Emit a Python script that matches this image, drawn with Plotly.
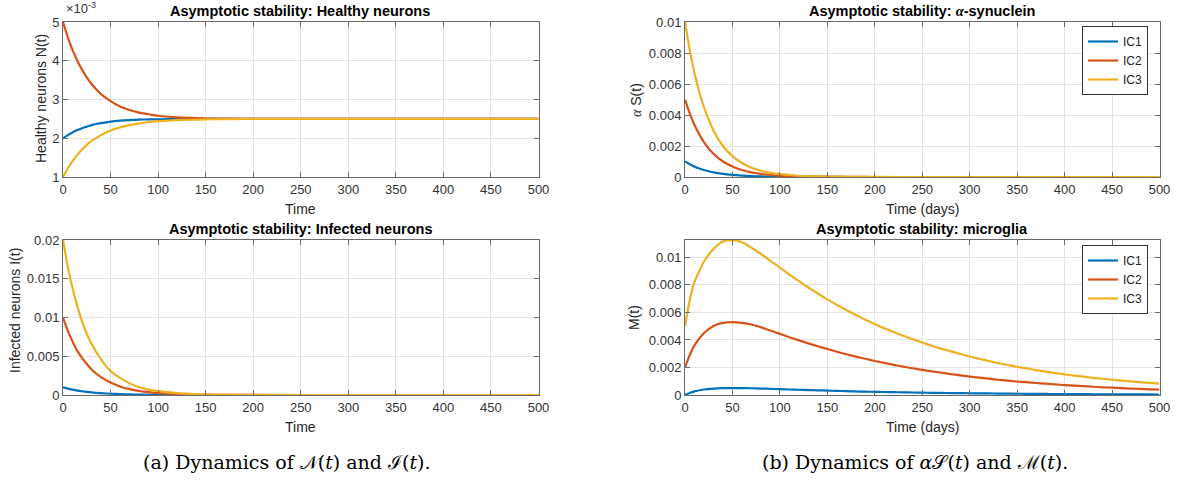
import plotly.graph_objects as go

# ---------------- data ----------------
T = [0, 5, 10, 15, 20, 25, 30, 40, 50, 60, 70, 80, 90, 100, 120, 140, 160, 180, 200, 250, 300, 350, 400, 450, 500]

# Healthy neurons N(t), in units of 1e-3
N_ic1 = [2.0, 2.08, 2.15, 2.21, 2.26, 2.30, 2.34, 2.39, 2.43, 2.455, 2.47, 2.48, 2.487, 2.49, 2.495, 2.498, 2.499, 2.5, 2.5, 2.5, 2.5, 2.5, 2.5, 2.5, 2.5]
N_ic2 = [5.0, 4.61, 4.28, 4.00, 3.77, 3.57, 3.40, 3.14, 2.96, 2.82, 2.73, 2.66, 2.62, 2.58, 2.54, 2.52, 2.51, 2.505, 2.5, 2.5, 2.5, 2.5, 2.5, 2.5, 2.5]
N_ic3 = [1.0, 1.22, 1.41, 1.57, 1.71, 1.83, 1.93, 2.08, 2.20, 2.28, 2.34, 2.38, 2.42, 2.44, 2.47, 2.48, 2.49, 2.495, 2.5, 2.5, 2.5, 2.5, 2.5, 2.5, 2.5]

# Infected neurons I(t)
I_ic1 = [0.001, 0.00083, 0.00069, 0.00057, 0.00048, 0.0004, 0.00033, 0.00023, 0.00016, 0.00011, 0.000075, 0.00005, 0.000036, 0.000025, 0.000012, 0.000006, 0.000003, 0.000001, 0, 0, 0, 0, 0, 0, 0]
I_ic2 = [0.01, 0.0083, 0.0069, 0.0057, 0.0048, 0.0040, 0.0033, 0.0023, 0.0016, 0.0011, 0.00075, 0.00052, 0.00036, 0.00025, 0.00012, 0.00006, 0.00003, 0.00001, 0.000006, 0, 0, 0, 0, 0, 0]
I_ic3 = [0.02, 0.0166, 0.0138, 0.0115, 0.0095, 0.0079, 0.0066, 0.0046, 0.0031, 0.0022, 0.0015, 0.0010, 0.0007, 0.0005, 0.00024, 0.00011, 0.00005, 0.00003, 0.00001, 0, 0, 0, 0, 0, 0]

# alpha-synuclein S(t)
S_ic1 = [0.001, 0.00082, 0.00067, 0.00055, 0.00045, 0.00037, 0.0003, 0.0002, 0.000135, 0.00009, 0.00006, 0.00004, 0.000027, 0.000018, 0.000008, 0.000004, 0.000002, 0.000001, 0, 0, 0, 0, 0, 0, 0]
S_ic2 = [0.005, 0.0041, 0.00335, 0.00275, 0.00225, 0.00184, 0.0015, 0.001, 0.00068, 0.00045, 0.0003, 0.0002, 0.00014, 0.00009, 0.00004, 0.00002, 0.00001, 0.000004, 0.0000015, 0, 0, 0, 0, 0, 0]
S_ic3 = [0.01, 0.0082, 0.0067, 0.0055, 0.0045, 0.0037, 0.0030, 0.0020, 0.00135, 0.0009, 0.0006, 0.0004, 0.00027, 0.00018, 0.00008, 0.00004, 0.00002, 0.00001, 0.000003, 0, 0, 0, 0, 0, 0]

# Microglia M(t) on its own time grid
T_M = [0, 5, 10, 20, 30, 40, 50, 60, 70, 80, 90, 100, 110, 120, 130, 140, 150, 160, 170, 180, 190, 200,
       210, 220, 230, 240, 250, 260, 270, 280, 290, 300, 310, 320, 330, 340, 350, 360, 370, 380, 390, 400,
       410, 420, 430, 440, 450, 460, 470, 480, 490, 500]
M_ic1 = [0, 0.00015, 0.00026, 0.0004, 0.00047, 0.0005, 0.00051, 0.0005, 0.00049, 0.00047, 0.00045, 0.00042,
         0.0004, 0.00038, 0.00036, 0.00034, 0.00032, 0.0003, 0.00028, 0.00026, 0.000245, 0.00023,
         0.000218, 0.000206, 0.000194, 0.000182, 0.00017, 0.00016, 0.00015, 0.000142, 0.000134, 0.000126,
         0.000118, 0.000111, 0.000104, 0.000098, 0.000092, 0.000087, 0.000082, 0.000077, 0.000072, 0.000068,
         0.000064, 0.00006, 0.000056, 0.000053, 0.00005, 0.000047, 0.000044, 0.000041, 0.000039, 0.000037]
M_ic2 = [0.002, 0.0029, 0.0036, 0.0045, 0.00502, 0.00524, 0.0053, 0.00524, 0.00512, 0.00492, 0.00468, 0.00444,
         0.0042, 0.00397, 0.00375, 0.00354, 0.00334, 0.00314, 0.00296, 0.00279, 0.00263, 0.00247,
         0.00233, 0.00219, 0.00206, 0.00194, 0.00183, 0.00172, 0.00162, 0.00152, 0.00143, 0.00134,
         0.00126, 0.00119, 0.00111, 0.00105, 0.00098, 0.00093, 0.00087, 0.00082, 0.00077, 0.00072,
         0.00068, 0.00064, 0.0006, 0.00056, 0.00053, 0.0005, 0.00047, 0.00044, 0.00041, 0.00039]
M_ic3 = [0.005, 0.0069, 0.0082, 0.0097, 0.0106, 0.01115, 0.01125, 0.0111, 0.0107, 0.01025, 0.00975, 0.00925,
         0.00875, 0.00827, 0.00781, 0.00737, 0.00695, 0.00655, 0.00617, 0.00581, 0.00547, 0.00515,
         0.00485, 0.00457, 0.0043, 0.00405, 0.00381, 0.00358, 0.00337, 0.00317, 0.00298, 0.0028,
         0.00263, 0.00247, 0.00232, 0.00218, 0.00205, 0.00193, 0.00181, 0.0017, 0.0016, 0.0015,
         0.00141, 0.00133, 0.00125, 0.00118, 0.00111, 0.00105, 0.00099, 0.00093, 0.00088, 0.00083]

IC_NAMES = ["IC1", "IC2", "IC3"]
COLORS = ["#0072BD", "#D95319", "#EDB120"]

X_TICKS = [0, 50, 100, 150, 200, 250, 300, 350, 400, 450, 500]
N_TICKS = [1, 2, 3, 4, 5]
I_TICKS = [0, 0.005, 0.01, 0.015, 0.02]
I_TICKTEXT = ["0", "0.005", "0.01", "0.015", "0.02"]
S_TICKS = [0, 0.002, 0.004, 0.006, 0.008, 0.01]
S_TICKTEXT = ["0", "0.002", "0.004", "0.006", "0.008", "0.01"]
M_TICKS = [0, 0.002, 0.004, 0.006, 0.008, 0.01]
M_TICKTEXT = ["0", "0.002", "0.004", "0.006", "0.008", "0.01"]

# ---------------- figure ----------------
W, H = 1177, 489
fig = go.Figure()

def px(x):
    return x / W

def py(y):
    return 1 - y / H

LX = [px(63), px(538.5)]
RX = [px(685), px(1159.5)]
TY = [py(177), py(22)]
BY = [py(395), py(240)]

panels = [
    ("x", "y", T, [N_ic1, N_ic2, N_ic3], None),
    ("x2", "y2", T, [I_ic1, I_ic2, I_ic3], None),
    ("x3", "y3", T, [S_ic1, S_ic2, S_ic3], "legend"),
    ("x4", "y4", T_M, [M_ic1, M_ic2, M_ic3], "legend2"),
]

for xa, ya, tt, series, leg in panels:
    for name, col, vals in zip(IC_NAMES, COLORS, series):
        fig.add_trace(go.Scatter(
            x=tt, y=vals, xaxis=xa, yaxis=ya, mode="lines", name=name,
            line=dict(color=col, width=2.2, shape="spline", smoothing=0.6),
            showlegend=leg is not None, legend=leg if leg else "legend",
        ))

axis_common = dict(
    showline=True, linecolor="#6b6b6b", linewidth=1, mirror="ticks",
    ticks="inside", ticklen=5, tickcolor="#6b6b6b", automargin=False,
    showgrid=True, gridcolor="#e3e3e3", gridwidth=1, zeroline=False,
    tickfont=dict(family="Liberation Sans, Arial, sans-serif", size=13, color="#333333"),
)

def xaxis(dom, anchor):
    return dict(domain=dom, anchor=anchor, range=[0, 500], tickvals=X_TICKS, **axis_common)

def yaxis(dom, anchor, rng, tv, tt=None):
    d = dict(domain=dom, anchor=anchor, range=rng, tickvals=tv, **axis_common)
    if tt is not None:
        d["ticktext"] = tt
    return d

LEG_FONT = dict(family="Liberation Sans, Arial, sans-serif", size=12, color="#222")

fig.update_layout(
    width=W, height=H, margin=dict(l=0, r=0, t=0, b=0, autoexpand=False),
    paper_bgcolor="white", plot_bgcolor="white",
    xaxis=xaxis(LX, "y"), yaxis=yaxis(TY, "x", [1, 5], N_TICKS),
    xaxis2=xaxis(LX, "y2"), yaxis2=yaxis(BY, "x2", [0, 0.02], I_TICKS, I_TICKTEXT),
    xaxis3=xaxis(RX, "y3"), yaxis3=yaxis(TY, "x3", [0, 0.01], S_TICKS, S_TICKTEXT),
    xaxis4=xaxis(RX, "y4"), yaxis4=yaxis(BY, "x4", [0, 0.01126], M_TICKS, M_TICKTEXT),
    legend=dict(x=px(1148), y=py(26), xanchor="right", yanchor="top",
                bgcolor="white", bordercolor="#333333", borderwidth=1,
                font=LEG_FONT, tracegroupgap=0, itemwidth=30),
    legend2=dict(x=px(1148), y=py(245), xanchor="right", yanchor="top",
                 bgcolor="white", bordercolor="#333333", borderwidth=1,
                 font=LEG_FONT, tracegroupgap=0, itemwidth=30),
    showlegend=True,
)

SANS = "Liberation Sans, Arial, sans-serif"
SERIF = "DejaVu Serif, Liberation Serif, serif"

def ann(text, x, y, size=13, bold=False, angle=0, family=SANS, color="#000", xanchor="center"):
    if bold:
        text = "<b>" + text + "</b>"
    fig.add_annotation(text=text, x=px(x), y=py(y), xref="paper", yref="paper",
                       showarrow=False, textangle=angle, xanchor=xanchor, yanchor="middle",
                       font=dict(family=family, size=size, color=color))

# titles
ann("Asymptotic stability: Healthy neurons", 300, 11, size=14.5, bold=True)
ann("Asymptotic stability: Infected neurons", 300, 229, size=14.5, bold=True)
ann("Asymptotic stability: <span style='font-family:Liberation Serif'><i>α</i></span>-synuclein", 922, 11, size=14.5, bold=True)
ann("Asymptotic stability: microglia", 922, 229, size=14.5, bold=True)

# x labels
ann("Time", 300, 209, size=14, color="#262626")
ann("Time", 300, 427, size=14, color="#262626")
ann("Time (days)", 922, 209, size=14, color="#262626")
ann("Time (days)", 922, 427, size=14, color="#262626")

# y labels
ann("Healthy neurons N(t)", 41, 99, size=14, angle=-90, color="#262626")
ann("Infected neurons I(t)", 15, 311, size=14, angle=-90, color="#262626")
ann("<span style='font-family:Liberation Serif'><i>α</i></span> S(t)", 636, 100, size=14, angle=-90, color="#262626")
ann("M(t)", 634, 318, size=14, angle=-90, color="#262626")

# exponent
ann("×10<sup>-3</sup>", 64, 8, size=13, color="#333333", xanchor="left")

# captions
ann("(a) Dynamics of 𝒩(<i>t</i>) and ℐ(<i>t</i>).", 287, 462, size=19, family=SERIF)
ann("(b) Dynamics of <i>α</i>𝒮(<i>t</i>) and ℳ(<i>t</i>).", 915, 462, size=19, family=SERIF)

fig.write_html("out.html")
